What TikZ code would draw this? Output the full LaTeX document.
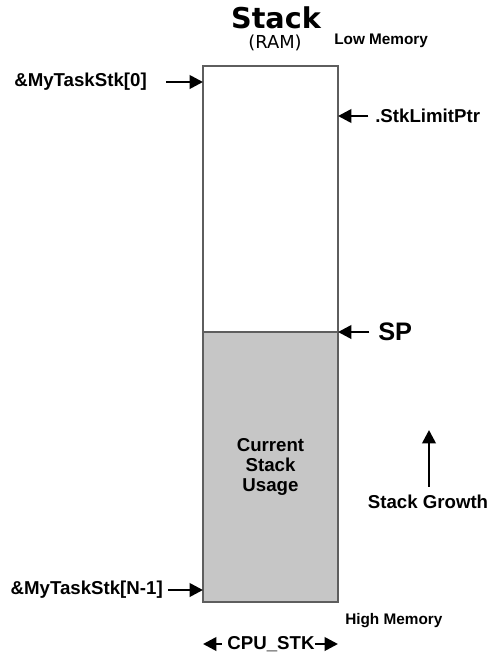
\documentclass[tikz,border=0pt]{standalone}
\usepackage{fontspec}
\setmainfont{Liberation Sans}
\newfontfamily\titlefont{DejaVu Sans}
\usetikzlibrary{arrows.meta,positioning}

\definecolor{usedgray}{HTML}{C6C6C6}
\definecolor{edgegray}{HTML}{5E5E5E}

\begin{document}
\begin{tikzpicture}[x=0.75pt, y=-0.75pt, >={Triangle[length=10pt,width=10pt]}]
    \tikzset{cell/.style = {draw=edgegray, line width=2.2pt, minimum width=101.25pt, outer sep=0pt, inner sep=0pt},
             lbl/.style = {font=\fontsize{14}{15}\selectfont\bfseries, inner sep=0pt},
             memlbl/.style = {font=\fontsize{11.5}{13}\selectfont\bfseries, inner sep=0pt},
             ptr/.style = {->, line width=2pt}}

    \useasboundingbox (0,0) rectangle (489,654);

    \node[font=\titlefont\fontsize{21.5}{24}\selectfont\bfseries, inner sep=0pt] (title) at (276,18) {Stack};
    \node[font=\titlefont\fontsize{13.4}{15}\selectfont, inner sep=0pt] (ram) at (275,43) {(RAM)};
    \node[memlbl, anchor=west] (low) at (334,41) {Low Memory};

    \node[cell] (free) at (270.5,199) [minimum height=199.5pt] {};
    \node[cell, fill=usedgray, align=center, lbl, font=\fontsize{14}{15}\selectfont\bfseries] (used) at (270.5,467) [minimum height=202.5pt] {Current\\Stack\\Usage};

    \coordinate (top) at (203,82);
    \coordinate (limit) at (338,116);
    \coordinate (sp) at (338,332);
    \coordinate (bot) at (203,590);

    \node[lbl, anchor=east] (base0) at (147,82) {\&MyTaskStk[0]};
    \node[lbl, anchor=west] (limitlbl) at (375,116) {.StkLimitPtr};
    \node[lbl, anchor=west, font=\fontsize{19}{20}\selectfont\bfseries] (splbl) at (378,332) {SP};
    \node[lbl, anchor=east] (baseN) at (163,590) {\&MyTaskStk[N-1]};

    \draw[ptr] ([xshift=14.5pt]base0.east) -- (top);
    \draw[ptr] ([xshift=-5pt]limitlbl.west) -- (limit);
    \draw[ptr] ([xshift=-6.5pt]splbl.west) -- (sp);
    \draw[ptr] ([xshift=4pt]baseN.east) -- (bot);

    \node[lbl] (growth) at (428,502) {Stack Growth};
    \coordinate (growtop) at (429,430);
    \draw[ptr] ([yshift=6pt]growth.north -| growtop) -- (growtop);

    \node[memlbl, anchor=west] (high) at (345,621) {High Memory};

    \node[lbl] (cpu) at (271,644) {CPU\_STK};
    \draw[ptr] ([xshift=-4pt]cpu.west) -- (cpu.west -| free.west);
    \draw[ptr] (cpu.east) -- (cpu.east -| free.east);
\end{tikzpicture}
\end{document}
